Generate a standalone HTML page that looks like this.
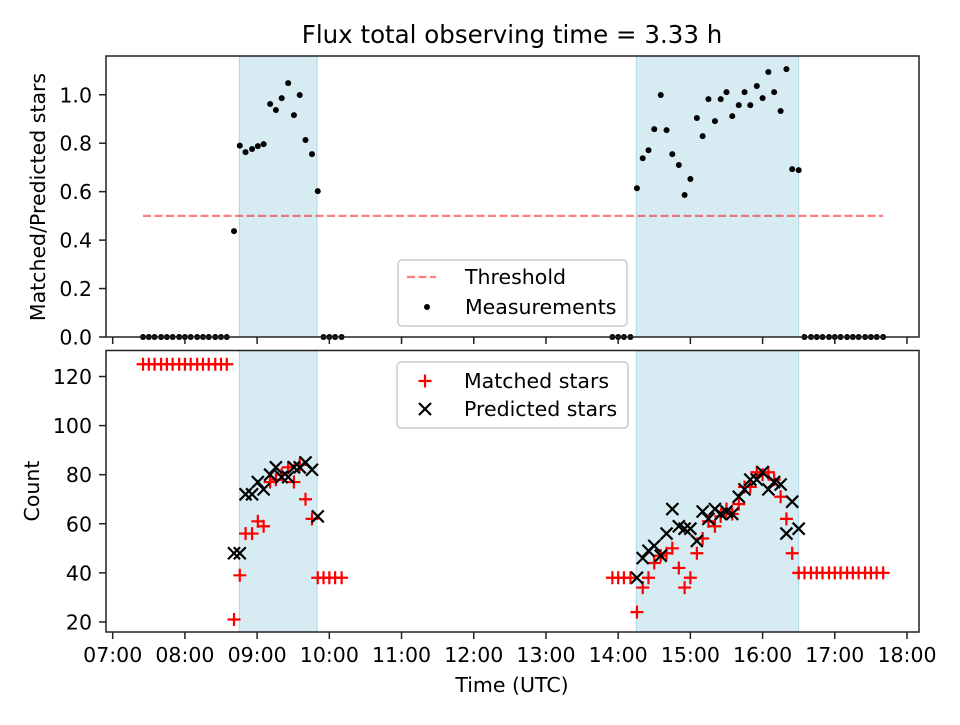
<!DOCTYPE html>
<html><head><meta charset="utf-8"><style>
body{margin:0;background:#fff;font-family:"Liberation Sans","DejaVu Sans",sans-serif}
svg text{font-family:"DejaVu Sans","Liberation Sans",sans-serif;fill:#000}
</style></head><body>
<svg id="c" width="960" height="720" viewBox="0 0 960 720"></svg>
<script>
const tHoursLabels=["07:00","08:00","09:00","10:00","11:00","12:00","13:00","14:00","15:00","16:00","17:00","18:00"];
const shadeSpans=[[8.754,9.83],[14.25,16.5]];
const threshold=0.5;
const zeroTimes=[7.42,7.5,7.58,7.67,7.75,7.83,7.92,8.0,8.08,8.17,8.25,8.33,8.42,8.5,8.58,9.92,10.0,10.08,10.17,13.92,14.0,14.08,14.17,16.58,16.67,16.75,16.83,16.92,17.0,17.08,17.17,17.25,17.33,17.42,17.5,17.58,17.67];
const obsTimes1=[8.68,8.76,8.84,8.93,9.01,9.09,9.18,9.26,9.34,9.43,9.51,9.59,9.67,9.76,9.84];
const ratio1=[0.437,0.79,0.763,0.776,0.788,0.796,0.962,0.937,0.986,1.048,0.916,0.999,0.813,0.755,0.602];
const pred1=[48,48,72,72,77,74,80,83,79,79,83,83,85,82,63];
const match1=[21,39,56,56,61,59,77,78,80,83,77,84,70,62,38];
const obsTimes2=[14.26,14.34,14.42,14.5,14.59,14.67,14.75,14.84,14.92,15.0,15.09,15.17,15.25,15.34,15.42,15.5,15.58,15.67,15.75,15.83,15.92,16.0,16.08,16.16,16.25,16.33,16.41,16.5];
const ratio2=[0.614,0.738,0.771,0.858,0.999,0.854,0.755,0.71,0.586,0.652,0.904,0.829,0.982,0.891,0.982,1.011,0.912,0.957,1.011,0.957,1.036,0.986,1.094,1.011,0.933,1.106,0.693,0.689];
const pred2=[38,46,49,51,47,56,66,59,58,58,53,65,62,66,64,65,64,71,74,78,78,81,74,77,76,56,69,58];
const match2=[24,34,38,44,47,48,50,42,34,38,48,54,61,59,63,66,64,68,75,75,81,80,81,78,71,62,48,40];
const flatTimesA=[7.42,7.5,7.58,7.67,7.75,7.83,7.92,8.0,8.08,8.17,8.25,8.33,8.42,8.5,8.58];
const flatA=[125,125,125,125,125,125,125,125,125,125,125,125,125,125,125];
const flatTimesB=[9.92,10.0,10.08,10.17,13.92,14.0,14.08,14.17];
const flatB=[38,38,38,38,38,38,38,38];
const flatTimesC=[16.58,16.67,16.75,16.83,16.92,17.0,17.08,17.17,17.25,17.33,17.42,17.5,17.58,17.67];
const flatC=[40,40,40,40,40,40,40,40,40,40,40,40,40,40];
const topTicks=[0,0.2,0.4,0.6,0.8,1.0];
const botTicks=[20,40,60,80,100,120];

const NS="http://www.w3.org/2000/svg";
const svg=document.getElementById('c');
function el(tag,attrs,parent){const e=document.createElementNS(NS,tag);for(const k in attrs)e.setAttribute(k,attrs[k]);(parent||svg).appendChild(e);return e;}
const L=106,R=919;
const X=h=>112.7+(h-7)*(907-112.7)/11;
const T={top:56,bot:337,min:0,max:1.16};
const B={top:350.5,bot:632,min:15.9,max:130.6};
const Y=(P,v)=>P.bot-(v-P.min)*(P.bot-P.top)/(P.max-P.min);
const FS=20.5;

function panel(P,name){
  const g=el('g',{});
  
  
  shadeSpans.forEach(s=>{
    const r=el('rect',{x:X(s[0]),y:P.top,width:X(s[1])-X(s[0]),height:P.bot-P.top,fill:'#add8e6','fill-opacity':0.5,stroke:'#add8e6','stroke-width':1},g);
    
    
  });
  return g;
}
function frame(P,g){
  const r=el('rect',{x:L,y:P.top,width:R-L,height:P.bot-P.top,fill:'none',stroke:'#222','stroke-width':1.5},g);
  
  
  for(let i=0;i<tHoursLabels.length;i++){
    const x=X(7+i);
    el('line',{x1:x,x2:x,y1:P.bot,y2:P.bot+7,stroke:'#222','stroke-width':1.5},g);
  }
}
function yticks(P,ticks,fmt,g){
  ticks.forEach(v=>{
    const y=Y(P,v);
    el('line',{x1:L-7,x2:L,y1:y,y2:y,stroke:'#222','stroke-width':1.5},g);
    const t=el('text',{x:L-14,y:y+7.5,'text-anchor':'end','font-size':FS},g);
    t.textContent=fmt(v);
    
    
  });
}
function plus(P,g,h,v){const x=X(h),y=Y(P,v);el('path',{d:`M${x-6.5} ${y}H${x+6.5}M${x} ${y-6.5}V${y+6.5}`,stroke:'#f00','stroke-width':2.2},g);}
function cross(P,g,h,v){const x=X(h),y=Y(P,v);el('path',{d:`M${x-6} ${y-6}L${x+6} ${y+6}M${x-6} ${y+6}L${x+6} ${y-6}`,stroke:'#000','stroke-width':2.2},g);}

const gt=panel(T,'ratio-panel');
const th=el('line',{x1:X(7.42),x2:X(17.67),y1:Y(T,threshold),y2:Y(T,threshold),stroke:'#ff0000','stroke-opacity':0.5,'stroke-width':2.2,'stroke-dasharray':'8,3.5'},gt);


const pts=el('g',{},gt);


zeroTimes.forEach(h=>el('circle',{cx:X(h),cy:Y(T,0),r:3,fill:'#000'},pts));
obsTimes1.forEach((h,i)=>el('circle',{cx:X(h),cy:Y(T,ratio1[i]),r:3,fill:'#000'},pts));
obsTimes2.forEach((h,i)=>el('circle',{cx:X(h),cy:Y(T,ratio2[i]),r:3,fill:'#000'},pts));
frame(T,gt);
yticks(T,topTicks,v=>v.toFixed(1),gt);

const gb=panel(B,'count-panel');
const mg=el('g',{},gb);


flatTimesA.forEach((h,i)=>plus(B,mg,h,flatA[i]));
flatTimesB.forEach((h,i)=>plus(B,mg,h,flatB[i]));
flatTimesC.forEach((h,i)=>plus(B,mg,h,flatC[i]));
obsTimes1.forEach((h,i)=>plus(B,mg,h,match1[i]));
obsTimes2.forEach((h,i)=>plus(B,mg,h,match2[i]));
const pg=el('g',{},gb);


obsTimes1.forEach((h,i)=>cross(B,pg,h,pred1[i]));
obsTimes2.forEach((h,i)=>cross(B,pg,h,pred2[i]));
frame(B,gb);
yticks(B,botTicks,v=>String(v),gb);
tHoursLabels.forEach((s,i)=>{
  const t=el('text',{x:X(7+i),y:B.bot+30,'text-anchor':'middle','font-size':FS},gb);
  t.textContent=s;
  
  
});

function txt(s,x,y,size,name,rot){const t=el('text',{x:x,y:y,'text-anchor':'middle','font-size':size});if(rot)t.setAttribute('transform',`rotate(-90 ${x} ${y})`);t.textContent=s;return t;}
txt('Flux total observing time = 3.33 h',512,43,24.5,'chart-title');
txt('Time (UTC)',512,692,FS,'x-axis-title');
txt('Matched/Predicted stars',45,197,FS,'y-axis-title-top',true);
txt('Count',39,491,FS,'y-axis-title-bottom',true);

function legend(x,y,w,h,name){const g=el('g',{});el('rect',{x:x,y:y,width:w,height:h,rx:4,fill:'#fff','fill-opacity':0.8,stroke:'#ccc','stroke-width':1.5},g);return g;}
const lt=legend(398,260,229,66,'legend-top');
el('line',{x1:407,x2:436,y1:277,y2:277,stroke:'#ff0000','stroke-opacity':0.5,'stroke-width':2.2,'stroke-dasharray':'8,3.5'},lt);
el('circle',{cx:427,cy:307,r:3,fill:'#000'},lt);
let t=el('text',{x:465,y:284,'font-size':FS},lt);t.textContent='Threshold';

t=el('text',{x:465,y:314,'font-size':FS},lt);t.textContent='Measurements';

const lb=legend(397,362,231,66,'legend-bottom');
el('path',{d:'M425 374.5V387.5M418.5 381H431.5',stroke:'#f00','stroke-width':2.2},lb);
el('path',{d:'M419 403L431 415M419 415L431 403',stroke:'#000','stroke-width':2.2},lb);
t=el('text',{x:464,y:388,'font-size':FS},lb);t.textContent='Matched stars';

t=el('text',{x:464,y:416,'font-size':FS},lb);t.textContent='Predicted stars';

</script>
</body></html>
